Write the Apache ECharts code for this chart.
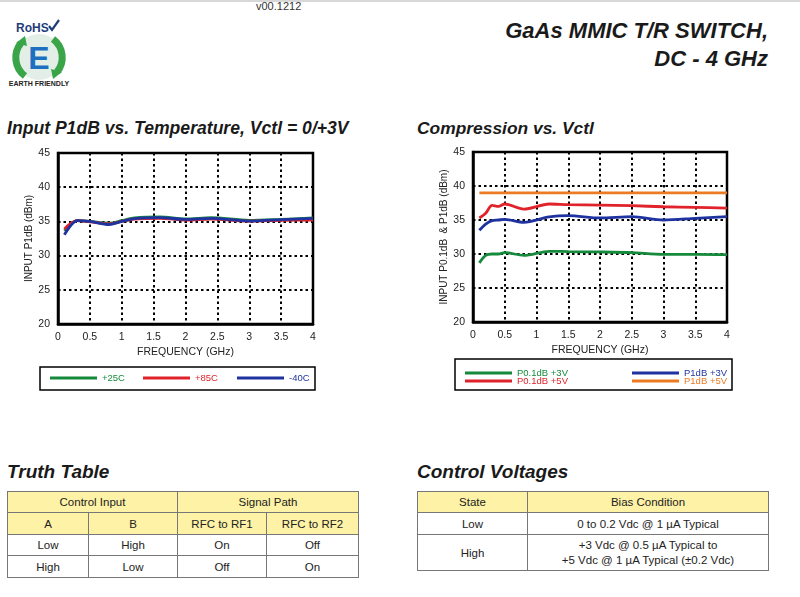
<!DOCTYPE html>
<html><head><meta charset="utf-8">
<script src="https://cdn.jsdelivr.net/npm/echarts@6/dist/echarts.min.js"></script>
<style>
html,body{margin:0;padding:0;background:#fff;}
body{width:800px;height:597px;position:relative;overflow:hidden;font-family:"Liberation Sans",Arial,Helvetica,sans-serif;color:#222;}
.abs{position:absolute;}
.bi{font-weight:bold;font-style:italic;color:#1a1a1a;}
#topline{left:0;top:0;width:800px;height:2px;background:#d8d8d8;}
#ver{left:256px;top:0px;font-size:11px;color:#333;}
#t1{right:32px;top:17px;font-size:22px;text-align:right;line-height:28px;}
#c1title{left:7px;top:118px;font-size:17.6px;}
#c2title{left:417px;top:118px;font-size:17.4px;}
#chart{left:0;top:0;width:800px;height:400px;}
#tt{left:7px;top:461px;font-size:19px;}
#cv{left:417px;top:461px;font-size:19px;}
table{position:absolute;border-collapse:collapse;font-size:11.5px;color:#222;}
td{border:1px solid #777;text-align:center;padding:0;}
.h{background:#fdf2a6;}
</style></head><body>
<div id="topline" class="abs"></div>
<div id="ver" class="abs">v00.1212</div>
<svg class="abs" style="left:2px;top:14px" width="74" height="76" viewBox="0 0 74 76">
  <text x="14" y="18" font-family="Liberation Sans, Arial" font-weight="bold" font-size="12" fill="#1f3d7a">RoHS</text>
  <path d="M47 12 l3 4 l7 -10" stroke="#1f3d7a" stroke-width="2.2" fill="none"/>
  <circle cx="37" cy="43" r="23" fill="#e3efe6"/>
  <path d="M19 29 A23 23 0 0 0 23 62" stroke="#3aa548" stroke-width="7" fill="none"/>
  <path d="M55 58 A23 23 0 0 0 51 25" stroke="#3aa548" stroke-width="7" fill="none"/>
  <path d="M14 29 l9 -7 l2 10 z" fill="#3aa548"/>
  <path d="M60 58 l-9 7 l-2 -10 z" fill="#3aa548"/>
  <text x="37" y="55" text-anchor="middle" font-family="Liberation Sans, Arial" font-weight="bold" font-size="32" fill="#1f6fc0">E</text>
  <text x="37" y="72" text-anchor="middle" font-family="Liberation Sans, Arial" font-weight="bold" font-size="7" fill="#222">EARTH FRIENDLY</text>
</svg>
<div id="t1" class="abs bi">GaAs MMIC T/R SWITCH,<br>DC - 4 GHz</div>
<div id="c1title" class="abs bi">Input P1dB vs. Temperature, Vctl = 0/+3V</div>
<div id="c2title" class="abs bi">Compression vs. Vctl</div>
<div id="chart" class="abs"></div>

<div id="tt" class="abs bi">Truth Table</div>
<table style="left:7px;top:491px;width:352px;">
<tr style="height:21px"><td class="h" colspan="2">Control Input</td><td class="h" colspan="2">Signal Path</td></tr>
<tr style="height:22px"><td class="h" style="width:80px">A</td><td class="h" style="width:88px">B</td><td class="h" style="width:88px">RFC to RF1</td><td class="h">RFC to RF2</td></tr>
<tr style="height:21px"><td>Low</td><td>High</td><td>On</td><td>Off</td></tr>
<tr style="height:22px"><td>High</td><td>Low</td><td>Off</td><td>On</td></tr>
</table>

<div id="cv" class="abs bi">Control Voltages</div>
<table style="left:417px;top:491px;width:352px;">
<tr style="height:21px"><td class="h" style="width:109px">State</td><td class="h">Bias Condition</td></tr>
<tr style="height:22px"><td>Low</td><td>0 to 0.2 Vdc @ 1 µA Typical</td></tr>
<tr style="height:36px"><td>High</td><td style="line-height:15px">+3 Vdc @ 0.5 µA Typical to<br>+5 Vdc @ 1 µA Typical (±0.2 Vdc)</td></tr>
</table>

<script>
// Left chart: Input P1dB vs Temperature
const freqT = [0.1, 0.2, 0.3, 0.5, 0.8, 1.0, 1.2, 1.6, 2.0, 2.4, 3.0, 3.5, 4.0];
const p1dB_25C = [33.6, 34.6, 35.1, 35.0, 34.75, 35.1, 35.5, 35.65, 35.35, 35.55, 35.15, 35.3, 35.5];
const p1dB_85C = [33.9, 34.7, 35.1, 34.95, 34.65, 35.0, 35.35, 35.45, 35.2, 35.35, 35.05, 35.15, 35.2];
const p1dB_m40C = [33.05, 34.4, 35.1, 35.0, 34.55, 35.0, 35.4, 35.55, 35.3, 35.45, 35.05, 35.25, 35.45];
// Right chart: Compression vs Vctl
const freqV = [0.1, 0.2, 0.3, 0.4, 0.5, 0.8, 1.2, 1.5, 2.0, 2.5, 3.0, 3.5, 4.0];
const p01dB_3V = [28.7, 29.8, 30.0, 30.0, 30.2, 29.8, 30.4, 30.35, 30.3, 30.2, 29.95, 29.95, 29.9];
const p01dB_5V = [35.3, 36.0, 37.15, 37.0, 37.35, 36.6, 37.35, 37.25, 37.2, 37.1, 36.95, 36.85, 36.75];
const p1dB_3V = [33.5, 34.4, 34.9, 35.0, 35.1, 34.65, 35.45, 35.65, 35.3, 35.5, 35.0, 35.25, 35.5];
const p1dB_5V = [39.0, 39.0, 39.0, 39.0, 39.0, 39.0, 39.0, 39.0, 39.0, 39.0, 39.0, 39.0, 39.0];
const xTicks = {min: 0, max: 4, interval: 0.5};
const yTicks = {min: 20, max: 45, interval: 5};

const C = {green:'#168a3c', red:'#e0232b', blue:'#1f33a0', orange:'#ec7a22'};
const zip = (xs, ys) => xs.map((x, i) => [x, ys[i]]);

function xAx(gi){
  return {gridIndex: gi, type:'value', min:xTicks.min, max:xTicks.max, interval:xTicks.interval,
    name:'FREQUENCY (GHz)', nameLocation:'middle', nameGap:23,
    nameTextStyle:{fontSize:10.5, color:'#222'},
    axisLine:{show:true, lineStyle:{color:'#000', width:2.5}}, axisTick:{show:false},
    axisLabel:{fontSize:10.5, color:'#222', margin:8},
    splitLine:{show:true, lineStyle:{color:'#000', width:2, type:[2.5,3]}}};
}
function yAx(gi, name, gap){
  return {gridIndex: gi, type:'value', min:yTicks.min, max:yTicks.max, interval:yTicks.interval,
    name:name, nameLocation:'middle', nameGap:gap,
    nameTextStyle:{fontSize:10, color:'#222'},
    axisLine:{show:true, lineStyle:{color:'#000', width:2.5}}, axisTick:{show:false},
    axisLabel:{fontSize:10.5, color:'#222', margin:8},
    splitLine:{show:true, lineStyle:{color:'#000', width:2, type:[2.5,3]}}};
}
function ser(name, xs, ys, color, gi){
  return {name, type:'line', xAxisIndex:gi, yAxisIndex:gi, data:zip(xs, ys), showSymbol:false,
    smooth:0.3, lineStyle:{color, width:2.8}, itemStyle:{color}, z:3};
}
function leg(name, color, left, top){
  return {left, top, orient:'horizontal', icon:'rect', itemWidth:47, itemHeight:3, itemGap:0,
    selectedMode:false, padding:0, data:[{name, textStyle:{color, fontSize:9.5}}], textStyle:{fontSize:9.5}};
}

const chart = echarts.init(document.getElementById('chart'));
chart.setOption({
  animation:false,
  grid:[
    {left:58, top:153, width:255, height:171, show:true, borderColor:'#000', borderWidth:2.5},
    {left:473, top:152, width:254, height:170, show:true, borderColor:'#000', borderWidth:2.5}
  ],
  xAxis:[xAx(0), xAx(1)],
  yAxis:[yAx(0,'INPUT P1dB (dBm)', 22), yAx(1,'INPUT P0.1dB  & P1dB (dBm)', 22)],
  legend:[
    leg('+25C', C.green, 50, 373),
    leg('+85C', C.red, 143, 373),
    leg('-40C', C.blue, 237, 373),
    leg('P0.1dB +3V', C.green, 465, 368),
    leg('P0.1dB +5V', C.red, 465, 376),
    leg('P1dB +3V', C.blue, 632, 368),
    leg('P1dB +5V', C.orange, 632, 376)
  ],
  graphic:[
    {type:'rect', shape:{x:40, y:367, width:275, height:23}, style:{fill:'none', stroke:'#000', lineWidth:1.5}, silent:true},
    {type:'rect', shape:{x:455, y:359, width:277, height:31}, style:{fill:'none', stroke:'#000', lineWidth:1.5}, silent:true}
  ],
  series:[
    ser('+25C', freqT, p1dB_25C, C.green, 0),
    ser('+85C', freqT, p1dB_85C, C.red, 0),
    ser('-40C', freqT, p1dB_m40C, C.blue, 0),
    ser('P0.1dB +3V', freqV, p01dB_3V, C.green, 1),
    ser('P0.1dB +5V', freqV, p01dB_5V, C.red, 1),
    ser('P1dB +3V', freqV, p1dB_3V, C.blue, 1),
    ser('P1dB +5V', freqV, p1dB_5V, C.orange, 1)
  ]
});
</script>
</body></html>
